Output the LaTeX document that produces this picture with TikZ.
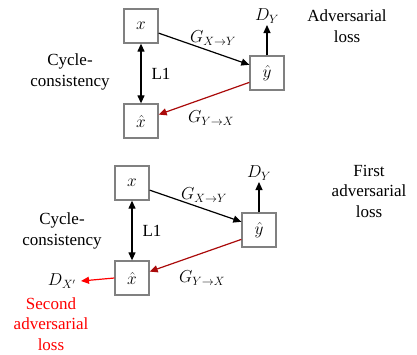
\documentclass[tikz,border=0pt]{standalone}
\usepackage{fontspec}
\setmainfont{Liberation Serif}
\usepackage{xcolor}
\usetikzlibrary{arrows.meta}
\definecolor{boxgray}{RGB}{128,128,128}
\definecolor{darkred}{RGB}{170,10,10}
\begin{document}
\begin{tikzpicture}[x=1pt,y=-1pt,
    every node/.style={font=\fontsize{17}{20.5}\selectfont},
    box/.style={draw=boxgray,line width=1.3pt,minimum size=34pt,inner sep=0pt},
    arr/.style={line width=1.2pt,-{Triangle[length=8pt,width=7pt]}},
    dblarr/.style={line width=1.2pt,{Triangle[length=8pt,width=7pt]}-{Triangle[length=8pt,width=7pt]}}]
    \useasboundingbox (0,0) rectangle (417,354);
    % top cycle
    \node[box] (x1) at (141,26) {$x$};
    \node[box] (y1) at (267,73) {$\hat{y}$};
    \node[box] (xh1) at (141,121) {$\hat{x}$};
    \node (dy1) at (267,16) {$D_Y$};
    \coordinate (dyend1) at (267,25);
    \draw[arr] (x1.-22) -- (y1.155);
    \draw[arr,darkred] (y1.-152) -- (xh1.20);
    \draw[dblarr] (x1.south) -- (xh1.north);
    \draw[arr] (y1.north) -- (dyend1);
    \node (gxy1) at (213,38) {$G_{X\rightarrow Y}$};
    \node (gyx1) at (211,118) {$G_{Y\rightarrow X}$};
    \node (l11) at (161,74) {L1};
    \node[align=center] (cyc1) at (70,72) {Cycle-\\consistency};
    \node[align=center] (adv1) at (347,26) {Adversarial\\loss};
    % bottom cycle
    \node[box] (x2) at (132,183) {$x$};
    \node[box] (y2) at (259,230) {$\hat{y}$};
    \node[box] (xh2) at (132,278) {$\hat{x}$};
    \node (dy2) at (259,173) {$D_Y$};
    \coordinate (dyend2) at (259,182);
    \draw[arr] (x2.-22) -- (y2.155);
    \draw[arr,darkred] (y2.-152) -- (xh2.20);
    \draw[dblarr] (x2.south) -- (xh2.north);
    \draw[arr] (y2.north) -- (dyend2);
    \node (gxy2) at (204,195) {$G_{X\rightarrow Y}$};
    \node (gyx2) at (202,278) {$G_{Y\rightarrow X}$};
    \node (l12) at (152,231) {L1};
    \node[align=center] (cyc2) at (62,231) {Cycle-\\consistency};
    \node[align=center] (adv2) at (369,191) {First\\adversarial\\loss};
    \node (dx2) at (62,281) {$D_{X'}$};
    \coordinate (dxend2) at (81,281);
    \draw[arr,red] (xh2.west) -- (dxend2);
    \node[align=center,red] (adv3) at (51,324) {Second\\adversarial\\loss};
\end{tikzpicture}
\end{document}
